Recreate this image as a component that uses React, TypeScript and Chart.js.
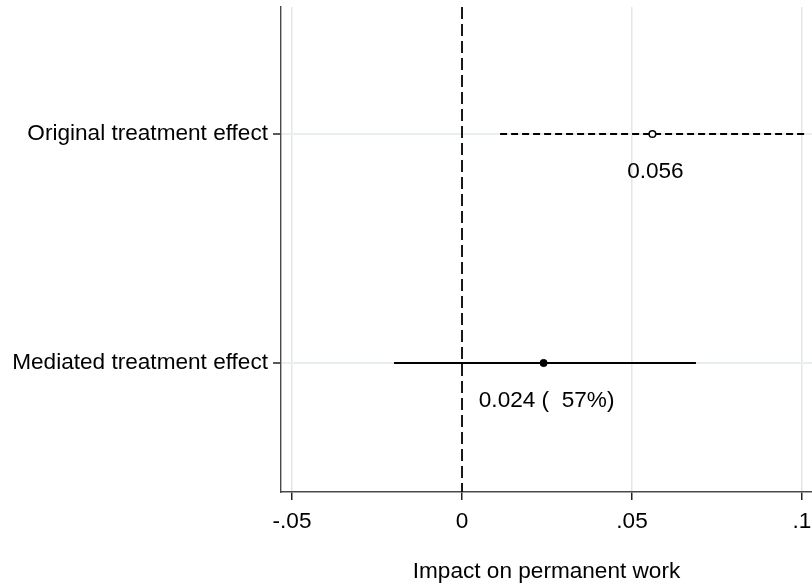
import React, { useEffect, useRef } from 'react';
import { Chart, registerables } from 'chart.js';

Chart.register(...registerables);

// ---- data ----
const categories = ['Original treatment effect', 'Mediated treatment effect'];
const categoryPositions = [2, 1];
const estimates = [0.056, 0.024];
const ciLower = [0.0112, -0.0200];
const ciUpper = [0.1010, 0.0688];
const estimateLabels = ['0.056', '0.024 (  57%)'];
const xTicks = [-0.05, 0, 0.05, 0.1];
const xTickLabels = ['-.05', '0', '.05', '.1'];
const xTitle = 'Impact on permanent work';
const referenceValue = 0;

const X_MIN = -0.05324;
const X_MAX = 0.10294;
const Y_MIN = 0.4367;
const Y_MAX = 2.5546;

const FONT = '"Liberation Sans", Arial, sans-serif';
const FS = 22.6;

export default function App() {
  const ref = useRef<HTMLCanvasElement | null>(null);

  useEffect(() => {
    document.body.style.margin = '0';
    const canvas = ref.current;
    if (!canvas) return;

    const labelPlugin = {
      id: 'estimateLabels',
      afterDatasetsDraw(chart: any) {
        const ctx = chart.ctx;
        const xs = chart.scales.x;
        const ys = chart.scales.y;
        ctx.save();
        ctx.fillStyle = '#000';
        ctx.font = `${FS}px ${FONT}`;
        ctx.textAlign = 'center';
        ctx.textBaseline = 'middle';
        estimates.forEach((v, i) => {
          ctx.fillText(
            estimateLabels[i],
            xs.getPixelForValue(v) + 3,
            ys.getPixelForValue(categoryPositions[i]) + 38
          );
        });
        ctx.restore();
      },
    };

    const datasets: any[] = [
      {
        label: 'Reference',
        data: [
          { x: referenceValue, y: Y_MAX },
          { x: referenceValue, y: Y_MIN },
        ],
        showLine: true,
        borderColor: '#000',
        borderWidth: 1.8,
        borderDash: [12, 5],
        pointRadius: 0,
        order: 4,
      },
      {
        label: 'CI ' + categories[0],
        data: [
          { x: ciLower[0], y: categoryPositions[0] },
          { x: ciUpper[0], y: categoryPositions[0] },
        ],
        showLine: true,
        borderColor: '#000',
        borderWidth: 1.8,
        borderDash: [7, 4],
        pointRadius: 0,
        order: 3,
      },
      {
        label: 'CI ' + categories[1],
        data: [
          { x: ciLower[1], y: categoryPositions[1] },
          { x: ciUpper[1], y: categoryPositions[1] },
        ],
        showLine: true,
        borderColor: '#000',
        borderWidth: 1.8,
        pointRadius: 0,
        order: 3,
      },
      {
        label: categories[0],
        data: [{ x: estimates[0], y: categoryPositions[0] }],
        pointRadius: 3.3,
        pointBackgroundColor: '#fff',
        pointBorderColor: '#000',
        pointBorderWidth: 1.5,
        order: 1,
      },
      {
        label: categories[1],
        data: [{ x: estimates[1], y: categoryPositions[1] }],
        pointRadius: 3.6,
        pointBackgroundColor: '#000',
        pointBorderColor: '#000',
        pointBorderWidth: 1,
        order: 1,
      },
    ];

    const chart = new Chart(canvas, {
      type: 'scatter',
      data: { datasets },
      plugins: [labelPlugin],
      options: {
        animation: false,
        responsive: false,
        maintainAspectRatio: false,
        layout: { autoPadding: false, padding: { top: 7, right: 0, left: 0, bottom: 0 } },
        plugins: {
          legend: { display: false },
          tooltip: { enabled: false },
        },
        scales: {
          x: {
            type: 'linear',
            min: X_MIN,
            max: X_MAX,
            afterBuildTicks: (scale: any) => {
              scale.ticks = xTicks.map((v) => ({ value: v }));
            },
            afterFit: (scale: any) => {
              scale.height = 94;
              scale.paddingLeft = 0;
              scale.paddingRight = 0;
            },
            ticks: {
              color: '#000',
              padding: 8,
              maxRotation: 0,
              autoSkip: false,
              font: { family: FONT, size: FS },
              callback: (value: any) => {
                const i = xTicks.findIndex((t) => Math.abs(t - Number(value)) < 1e-9);
                return i >= 0 ? xTickLabels[i] : '';
              },
            },
            grid: {
              color: (c: any) =>
                c.tick && Math.abs(c.tick.value - referenceValue) < 1e-9 ? 'rgba(0,0,0,0)' : '#e6e6e6',
              lineWidth: 1.5,
              borderDash: [13, 6],
              tickColor: '#222',
              tickWidth: 1.5,
              tickLength: 8,
              tickBorderDash: [],
            } as any,
            border: { display: true, color: '#4a4a4a', width: 1.4 },
            title: {
              display: true,
              text: xTitle,
              color: '#000',
              font: { family: FONT, size: FS },
              padding: { top: 0, bottom: 1 },
            },
          },
          y: {
            type: 'linear',
            min: Y_MIN,
            max: Y_MAX,
            afterBuildTicks: (scale: any) => {
              scale.ticks = categoryPositions.map((v) => ({ value: v }));
            },
            afterFit: (scale: any) => {
              scale.width = 281;
              scale.paddingTop = 0;
              scale.paddingBottom = 0;
            },
            ticks: {
              color: '#000',
              padding: 5,
              autoSkip: false,
              font: { family: FONT, size: FS },
              callback: (value: any) => {
                const i = categoryPositions.findIndex((p) => Math.abs(p - Number(value)) < 1e-9);
                return i >= 0 ? categories[i] : '';
              },
            },
            grid: {
              color: '#e6eff1',
              lineWidth: 2,
              tickColor: '#222',
              tickWidth: 1.5,
              tickLength: 8,
            } as any,
            border: { display: true, color: '#4a4a4a', width: 1.4 },
          },
        },
      } as any,
    });

    return () => chart.destroy();
  }, []);

  return (
    <div style={{ position: 'fixed', left: 0, top: 0, width: 812, height: 586, background: '#fff' }}>
      <canvas ref={ref} width={812} height={586} style={{ display: 'block', width: 812, height: 586 }} />
    </div>
  );
}
